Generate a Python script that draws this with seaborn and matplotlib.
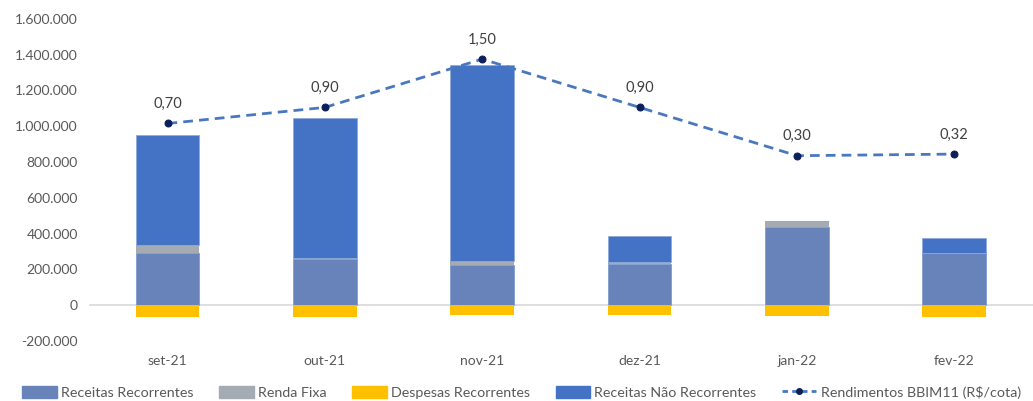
import matplotlib
matplotlib.use("Agg")
import matplotlib.pyplot as plt
import seaborn as sns
import pandas as pd
import numpy as np
from matplotlib.ticker import FuncFormatter
from matplotlib.patches import Patch
from matplotlib.lines import Line2D

months = ["set-21", "out-21", "nov-21", "dez-21", "jan-22", "fev-22"]
receitas_recorrentes = [291000, 259000, 225000, 230000, 438000, 289000]
renda_fixa = [43000, 3000, 19000, 10000, 30000, 0]
despesas_recorrentes = [-65000, -65000, -58000, -55000, -62000, -69000]
receitas_nao_recorrentes = [615000, 784000, 1100000, 146000, 0, 84000]
rendimentos = [0.70, 0.90, 1.50, 0.90, 0.30, 0.32]
rend_labels = ["0,70", "0,90", "1,50", "0,90", "0,30", "0,32"]

sns.set_theme(style="white")
plt.rcParams["font.family"] = ["Lato", "DejaVu Sans"]

c_rr = "#6783BA"
c_rf = "#A5ABB3"
c_desp = "#FFC000"
c_nr = "#4472C4"
c_line = "#4A78BE"
c_mark = "#0B1F5A"
txt = "#595959"

df = pd.DataFrame({
    "mes": months,
    "rr": receitas_recorrentes,
    "rf": renda_fixa,
    "desp": despesas_recorrentes,
    "nr": receitas_nao_recorrentes,
    "rend": rendimentos,
})
df["rf_bottom"] = df["rr"]
df["nr_bottom"] = df["rr"] + df["rf"]

fig = plt.figure(figsize=(10.33, 4.01), dpi=100)
ax = fig.add_axes([0.086, 0.150, 0.914, 0.803])

w = 0.405
sns.barplot(data=df, x="mes", y="rr", color=c_rr, width=w, ax=ax, saturation=1,
            edgecolor="#7F9BD0", linewidth=0.6)
sns.barplot(data=df, x="mes", y="rf", bottom=df["rf_bottom"], color=c_rf, width=w, ax=ax,
            saturation=1, linewidth=0)
sns.barplot(data=df, x="mes", y="nr", bottom=df["nr_bottom"], color=c_nr, width=w, ax=ax,
            saturation=1, edgecolor="#8FA9DA", linewidth=0.6)
sns.barplot(data=df, x="mes", y="desp", color=c_desp, width=w, ax=ax, saturation=1, linewidth=0)

ax.set_ylim(-200000, 1600000)
ax.set_xlim(-0.5, 5.5)
ax.set_yticks(np.arange(-200000, 1600001, 200000))
ax.yaxis.set_major_formatter(FuncFormatter(lambda v, p: f"{int(v):,}".replace(",", ".")))
ax.axhline(0, color="#D9D9D9", linewidth=1.2, zorder=0.5)
ax.set_xlabel("")
ax.set_ylabel("")
for s in ax.spines.values():
    s.set_visible(False)
ax.tick_params(axis="both", length=0, labelsize=10, colors=txt)
ax.tick_params(axis="x", pad=10)
ax.tick_params(axis="y", pad=8)

ax2 = ax.twinx()
sns.lineplot(x=np.arange(len(months)), y=rendimentos, ax=ax2, color=c_line, linewidth=2,
             linestyle=(0, (3.5, 2.2)), marker="o", markersize=5,
             markerfacecolor=c_mark, markeredgecolor=c_mark)
ax2.set_ylim(-2.0, 2.0)
ax2.set_yticks([])
for s in ax2.spines.values():
    s.set_visible(False)
for i, (v, lab) in enumerate(zip(rendimentos, rend_labels)):
    ax2.annotate(lab, (i, v), xytext=(0, 9), textcoords="offset points",
                 ha="center", va="bottom", fontsize=10.5, color="#404040")

handles = [
    Patch(facecolor=c_rr, edgecolor=c_rr),
    Patch(facecolor=c_rf, edgecolor=c_rf),
    Patch(facecolor=c_desp, edgecolor=c_desp),
    Patch(facecolor=c_nr, edgecolor=c_nr),
    Line2D([0], [0], color=c_line, linestyle=(0, (2, 1.5)), linewidth=2, marker="o",
           markersize=4, markerfacecolor=c_mark, markeredgecolor=c_mark),
]
labels = ["Receitas Recorrentes", "Renda Fixa", "Despesas Recorrentes",
          "Receitas Não Recorrentes", "Rendimentos BBIM11 (R$/cota)"]
leg = fig.legend(handles, labels, loc="center", bbox_to_anchor=(0.505, 0.022), ncol=5,
                 frameon=False, fontsize=10.3, handlelength=2.4, handleheight=0.9,
                 columnspacing=1.8, handletextpad=0.3, labelcolor=txt)

fig.savefig("out.png", dpi=100)
